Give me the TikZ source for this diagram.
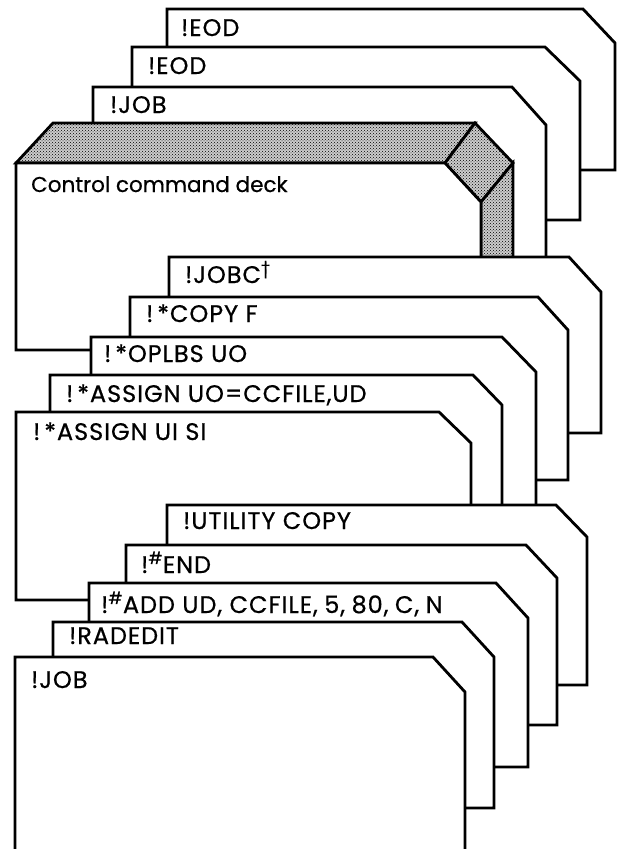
\documentclass[tikz,border=0pt]{standalone}
\usepackage{fontspec}
\setmainfont{Poppins}[FakeBold=0.6,LetterSpace=4]
\usetikzlibrary{patterns}

\begin{document}
\begin{tikzpicture}[x=1pt,y=-1pt,
        card/.style={draw,fill=white,line width=2.8pt,line join=miter},
        dots/.style={draw,line width=2.8pt,line join=miter,preaction={fill=gray!40},pattern=crosshatch dots},
        cmd/.style={anchor=base west,inner sep=0pt,font=\fontsize{24}{28}\selectfont}]
        \clip (0,0) rectangle (620,849);
        \draw[card] (167,170) -- (167,9) -- (583,9) -- (615,43) -- (615,170) -- cycle;
        \draw[card] (132,220) -- (132,47) -- (545,47) -- (580,81) -- (580,220) -- cycle;
        \draw[card] (93,290) -- (93,87) -- (512,87) -- (546,125) -- (546,290) -- cycle;
        \draw[dots] (16,163) -- (53,123) -- (475,123) -- (445,163) -- cycle;
        \draw[dots] (445,163) -- (475,123) -- (513,163) -- (481,202) -- cycle;
        \draw[dots] (481,202) -- (513,163) -- (513,350) -- (481,350) -- cycle;
        \draw[card] (16,350) -- (16,163) -- (445,163) -- (481,202) -- (481,350) -- cycle;
        \draw[card] (169,433) -- (169,257) -- (569,257) -- (601,292) -- (601,433) -- cycle;
        \draw[card] (130,480) -- (130,297) -- (538,297) -- (568,330) -- (568,480) -- cycle;
        \draw[card] (91,520) -- (91,337) -- (502,337) -- (536,372) -- (536,520) -- cycle;
        \draw[card] (50,520) -- (50,375) -- (473,375) -- (502,405) -- (502,520) -- cycle;
        \draw[card] (16,600) -- (16,412) -- (439,412) -- (471,443) -- (471,600) -- cycle;
        \draw[card] (167,685) -- (167,505) -- (556,505) -- (587,537) -- (587,685) -- cycle;
        \draw[card] (126,725) -- (126,545) -- (526,545) -- (557,578) -- (557,725) -- cycle;
        \draw[card] (89,767) -- (89,583) -- (496,583) -- (528,618) -- (528,767) -- cycle;
        \draw[card] (53,808) -- (53,622) -- (462,622) -- (494,657) -- (494,808) -- cycle;
        \draw[card] (15,870) -- (15,657) -- (433,657) -- (465,692) -- (465,870) -- cycle;

        \node[cmd] (EODA) at (181,36) {!EOD};
        \node[cmd] (EODB) at (148,74) {!EOD};
        \node[cmd] (JOBA) at (110,113) {!JOB};
        \node[cmd,font=\fontsize{21.5}{26}\selectfont\addfontfeature{LetterSpace=0}] (DECK) at (31,192) {Control command deck};
        \node[cmd] (JOBC) at (185,283) {!JOBC\textsuperscript{†}};
        \node[cmd] (COPY) at (146,322) {!\,*COPY F};
        \node[cmd] (OPLBS) at (104,362) {!\,*OPLBS UO};
        \node[cmd] (ASSIGNA) at (66,402) {!\,*ASSIGN UO=CCFILE,UD};
        \node[cmd] (ASSIGNB) at (33,440) {!\,*ASSIGN UI SI};
        \node[cmd] (UTIL) at (183,529) {!UTILITY COPY};
        \node[cmd] (END) at (141,573) {!\textsuperscript{\#}END};
        \node[cmd] (ADD) at (101,613) {!\textsuperscript{\#}ADD UD, CCFILE,\hspace{6.5pt}5,\hspace{6.5pt}80,\hspace{6.5pt}C,\hspace{6.5pt}N};
        \node[cmd] (RAD) at (69,644) {!RADEDIT};
        \node[cmd] (JOBB) at (31,688) {!JOB};
\end{tikzpicture}
\end{document}
